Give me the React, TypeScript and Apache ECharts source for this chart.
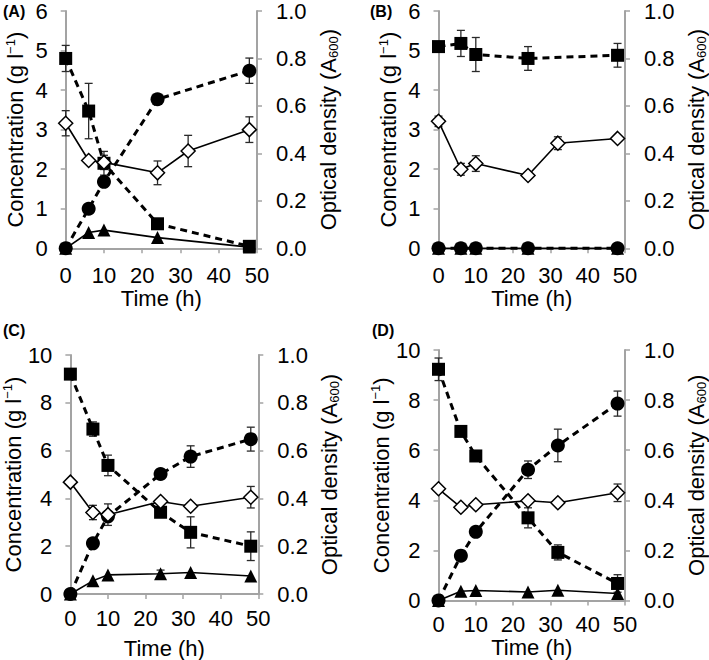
import React, { useEffect, useRef } from "react";
import * as echarts from "echarts";

// ---------- DATA ----------
const timeFive = [0, 6, 10, 24, 48];
const timeSix = [0, 6, 10, 24, 32, 48];

// Panel A
const squareA = [4.8, 3.47, 2.15, 0.62, 0.05];
const squareAErr = [0.33, 0.7, 0.3, 0.08, 0];
const circleA = [0, 1.0, 1.68, 3.77, 4.49];
const circleAErr = [0, 0, 0, 0, 0.32];
const triangleA = [0, 0.4, 0.46, 0.27, 0.03];
const triangleAErr = [0, 0, 0, 0, 0];
const diamondA = [0.527, 0.37, 0.362, 0.318, 0.41, 0.5];
const diamondAErr = [0.053, 0, 0.03, 0.05, 0.066, 0.054];

// Panel B
const squareB = [5.1, 5.18, 4.9, 4.8, 4.88];
const squareBErr = [0, 0.33, 0.43, 0.3, 0.3];
const circleB = [0, 0, 0, 0, 0];
const circleBErr = [0, 0, 0, 0, 0];
const triangleB = [0, 0, 0, 0, 0];
const triangleBErr = [0, 0, 0, 0, 0];
const diamondB = [0.535, 0.333, 0.357, 0.307, 0.443, 0.463];
const diamondBErr = [0.022, 0.025, 0.033, 0, 0.027, 0];

// Panel C
const squareC = [9.2, 6.9, 5.38, 3.42, 2.58, 2.0];
const squareCErr = [0, 0.3, 0.43, 0.1, 0.65, 0.6];
const circleC = [0, 2.12, 3.25, 5.02, 5.75, 6.48];
const circleCErr = [0, 0, 0, 0.2, 0.45, 0.5];
const triangleC = [0, 0.55, 0.8, 0.85, 0.9, 0.75];
const triangleCErr = [0, 0, 0, 0.15, 0, 0];
const diamondC = [0.468, 0.341, 0.332, 0.387, 0.367, 0.405];
const diamondCErr = [0, 0.03, 0.045, 0, 0, 0.045];

// Panel D
const squareD = [9.23, 6.75, 5.77, 3.3, 1.92, 0.68];
const squareDErr = [0.45, 0.1, 0.1, 0.4, 0.3, 0.35];
const circleD = [0, 1.79, 2.74, 5.22, 6.19, 7.86];
const circleDErr = [0, 0, 0, 0.35, 0.65, 0.5];
const triangleD = [0, 0.37, 0.4, 0.34, 0.41, 0.28];
const triangleDErr = [0, 0, 0, 0, 0, 0];
const diamondD = [0.446, 0.372, 0.382, 0.398, 0.39, 0.43];
const diamondDErr = [0, 0, 0, 0, 0, 0.035];

const panelLabels = ["(A)", "(B)", "(C)", "(D)"];
const xTitle = "Time (h)";

// ---------- STYLE / LAYOUT ----------
const FONT = "'Liberation Sans', Arial, Helvetica, sans-serif";
const GRAY = "#a3a3a3";
const FS = 22;

type PanelCfg = {
  grid: { left: number; top: number; width: number; height: number };
  leftMax: number;
  leftInterval: number;
  sq: [number[], number[], number[]];
  ci: [number[], number[], number[]];
  tri: [number[], number[], number[]];
  od: [number[], number[], number[]];
  xGap: number;
  xLabelMargin: number;
  label: { x: number; y: number };
};

const panels: PanelCfg[] = [
  {
    grid: { left: 65.7, top: 10, width: 191.3, height: 238.3 },
    leftMax: 6,
    leftInterval: 1,
    sq: [timeFive, squareA, squareAErr],
    ci: [timeFive, circleA, circleAErr],
    tri: [timeFive, triangleA, triangleAErr],
    od: [timeSix, diamondA, diamondAErr],
    xGap: 36,
    xLabelMargin: 16,
    label: { x: 3, y: 12 },
  },
  {
    grid: { left: 438.5, top: 10, width: 193, height: 238.3 },
    leftMax: 6,
    leftInterval: 1,
    sq: [timeFive, squareB, squareBErr],
    ci: [timeFive, circleB, circleBErr],
    tri: [timeFive, triangleB, triangleBErr],
    od: [timeSix, diamondB, diamondBErr],
    xGap: 38,
    xLabelMargin: 16,
    label: { x: 370, y: 12 },
  },
  {
    grid: { left: 66, top: 355, width: 192.3, height: 243.5 },
    leftMax: 10,
    leftInterval: 2,
    sq: [timeSix, squareC, squareCErr],
    ci: [timeSix, circleC, circleCErr],
    tri: [timeSix, triangleC, triangleCErr],
    od: [timeSix, diamondC, diamondCErr],
    xGap: 43,
    xLabelMargin: 13,
    label: { x: 3, y: 331 },
  },
  {
    grid: { left: 438.5, top: 350, width: 194, height: 250.5 },
    leftMax: 10,
    leftInterval: 2,
    sq: [timeSix, squareD, squareDErr],
    ci: [timeSix, circleD, circleDErr],
    tri: [timeSix, triangleD, triangleDErr],
    od: [timeSix, diamondD, diamondDErr],
    xGap: 33,
    xLabelMargin: 13,
    label: { x: 372, y: 331 },
  },
];

function pairs(t: number[], v: number[]) {
  return t.map((x, i) => [x, v[i]]);
}
function errRows(t: number[], v: number[], e: number[]) {
  const out: number[][] = [];
  t.forEach((x, i) => {
    if (e[i] > 0) out.push([x, v[i] - e[i], v[i] + e[i]]);
  });
  return out;
}

function errorSeries(xi: number, yi: number, rows: number[][]) {
  return {
    type: "custom",
    xAxisIndex: xi,
    yAxisIndex: yi,
    z: 1,
    silent: true,
    clip: false,
    encode: { x: 0, y: [1, 2] },
    data: rows,
    renderItem: (params: any, api: any) => {
      const x = api.value(0);
      const p1 = api.coord([x, api.value(1)]);
      const p2 = api.coord([x, api.value(2)]);
      const w = 4;
      const st = { stroke: "#2a2a2a", lineWidth: 1.3 };
      return {
        type: "group",
        children: [
          { type: "line", shape: { x1: p1[0], y1: p1[1], x2: p2[0], y2: p2[1] }, style: st },
          { type: "line", shape: { x1: p1[0] - w, y1: p1[1], x2: p1[0] + w, y2: p1[1] }, style: st },
          { type: "line", shape: { x1: p2[0] - w, y1: p2[1], x2: p2[0] + w, y2: p2[1] }, style: st },
        ],
      };
    },
  };
}

function buildOption() {
  const grid: any[] = [];
  const xAxis: any[] = [];
  const yAxis: any[] = [];
  const series: any[] = [];
  const graphic: any[] = [];

  const axisLine = { show: true, lineStyle: { color: GRAY, width: 2 } };
  const axisTick = { show: true, inside: false, length: 5, lineStyle: { color: GRAY, width: 1.5 } };
  const label = { color: "#000", fontSize: FS, fontFamily: FONT };

  panels.forEach((p, i) => {
    grid.push({ ...p.grid, containLabel: false });
    xAxis.push({
      type: "value",
      gridIndex: i,
      min: 0,
      max: 50,
      interval: 10,
      axisLine: { ...axisLine, onZero: false },
      axisTick,
      splitLine: { show: false },
      axisLabel: { ...label, margin: p.xLabelMargin },
      name: xTitle,
      nameLocation: "middle",
      nameGap: p.xGap,
      nameTextStyle: { ...label },
    });
    yAxis.push({
      type: "value",
      gridIndex: i,
      position: "left",
      min: 0,
      max: p.leftMax,
      interval: p.leftInterval,
      axisLine,
      axisTick,
      splitLine: { show: false },
      axisLabel: { ...label, margin: 18 },
      name: "{a|Concentration (g l}{s|−1}{a|)}",
      nameLocation: "middle",
      nameRotate: 90,
      nameGap: 38,
      nameTextStyle: {
        ...label,
        rich: {
          a: { fontSize: FS, fontFamily: FONT, color: "#000", lineHeight: 24 },
          s: { fontSize: 13, fontFamily: FONT, color: "#000", verticalAlign: "top", lineHeight: 13 },
        },
      },
    });
    yAxis.push({
      type: "value",
      gridIndex: i,
      position: "right",
      min: 0,
      max: 1,
      interval: 0.2,
      axisLine,
      axisTick,
      splitLine: { show: false },
      axisLabel: { ...label, margin: 19, formatter: (v: number) => v.toFixed(1) },
      name: "{a|Optical density (A}{b|600}{a|)}",
      nameLocation: "middle",
      nameRotate: 90,
      nameGap: 59,
      nameTextStyle: {
        ...label,
        rich: {
          a: { fontSize: FS, fontFamily: FONT, color: "#000", lineHeight: 24 },
          b: { fontSize: 13, fontFamily: FONT, color: "#000", verticalAlign: "bottom", lineHeight: 13 },
        },
      },
    });

    const yl = 2 * i;
    const yr = 2 * i + 1;

    series.push(errorSeries(i, yl, errRows(...p.sq)));
    series.push(errorSeries(i, yl, errRows(...p.ci)));
    series.push(errorSeries(i, yl, errRows(...p.tri)));
    series.push(errorSeries(i, yr, errRows(...p.od)));

    series.push({
      type: "line",
      xAxisIndex: i,
      yAxisIndex: yl,
      z: 2,
      clip: false,
      data: pairs(p.tri[0], p.tri[1]),
      symbol: "triangle",
      symbolSize: 13,
      showAllSymbol: true,
      lineStyle: { color: "#000", width: 1.6 },
      itemStyle: { color: "#000" },
    });
    series.push({
      type: "line",
      xAxisIndex: i,
      yAxisIndex: yl,
      z: 3,
      clip: false,
      data: pairs(p.sq[0], p.sq[1]),
      symbol: "rect",
      symbolSize: 13,
      showAllSymbol: true,
      lineStyle: { color: "#000", width: 3, type: [7, 5] },
      itemStyle: { color: "#000" },
    });
    series.push({
      type: "line",
      xAxisIndex: i,
      yAxisIndex: yl,
      z: 4,
      clip: false,
      data: pairs(p.ci[0], p.ci[1]),
      symbol: "circle",
      symbolSize: 14,
      showAllSymbol: true,
      lineStyle: { color: "#000", width: 3, type: [7, 5] },
      itemStyle: { color: "#000" },
    });
    series.push({
      type: "line",
      xAxisIndex: i,
      yAxisIndex: yr,
      z: 5,
      clip: false,
      data: pairs(p.od[0], p.od[1]),
      symbol: "diamond",
      symbolSize: [14, 14],
      showAllSymbol: true,
      lineStyle: { color: "#000", width: 1.6 },
      itemStyle: { color: "#fff", borderColor: "#000", borderWidth: 1.5 },
    });

    graphic.push({
      type: "text",
      left: p.label.x,
      top: p.label.y - 9,
      style: {
        text: panelLabels[i],
        fontSize: 16,
        fontWeight: "bold",
        fontFamily: FONT,
        fill: "#000",
      },
    });
  });

  return {
    animation: false,
    backgroundColor: "#fff",
    grid,
    xAxis,
    yAxis,
    series,
    graphic,
  };
}

export default function App() {
  const ref = useRef<HTMLDivElement>(null);
  useEffect(() => {
    if (!ref.current) return;
    const chart = echarts.init(ref.current, undefined, { renderer: "svg" });
    chart.setOption(buildOption() as any);
    return () => chart.dispose();
  }, []);
  return (
    <div
      ref={ref}
      style={{ position: "fixed", left: 0, top: 0, width: 709, height: 660, background: "#fff" }}
    />
  );
}
